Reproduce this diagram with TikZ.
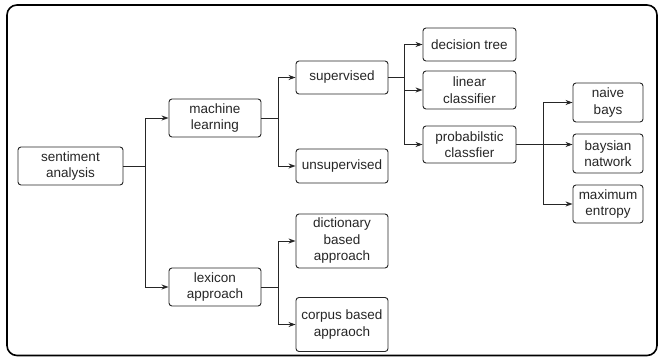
\documentclass[tikz,border=0pt]{standalone}
\usepackage{fontspec}
\setmainfont{Liberation Sans}
\usepackage{xcolor}
\usetikzlibrary{arrows.meta, positioning, calc}
\tikzset{>={Stealth[length=7pt,width=5pt]}}
\definecolor{myink}{HTML}{262626}
\tikzset{
	box/.style={draw=myink, line width=0.9pt, rounded corners=3pt, align=center, inner sep=2pt, text=myink, font=\fontsize{13.5}{16.5}\selectfont},
	link/.style={->, line width=0.9pt, draw=myink},
}

\begin{document}
\begin{tikzpicture}[x=1pt, y=-1pt]
		\useasboundingbox (0,0) rectangle (659,358);
		\draw [line width=1.6pt, rounded corners=10pt] (7,5) rectangle (657,355.5);
		% nodes
		\node [box, minimum width=105pt, minimum height=38pt] (sa) at (70.5,166) {sentiment\\analysis};
		\node [box, minimum width=92pt, minimum height=38pt] (ml) at (215,118) {machine\\learning};
		\node [box, minimum width=92pt, minimum height=38pt] (lex) at (215,287) {lexicon\\approach};
		\node [box, minimum width=92pt, minimum height=33pt] (sup) at (342,77.5) {supervised};
		\node [box, minimum width=92pt, minimum height=34pt] (uns) at (342,166) {unsupervised};
		\node [box, minimum width=92pt, minimum height=54pt] (dict) at (342,241) {dictionary\\based\\approach};
		\node [box, minimum width=92pt, minimum height=54pt] (corp) at (342,324.5) {corpus based\\appraoch};
		\node [box, minimum width=93pt, minimum height=33pt] (dt) at (469.5,44.5) {decision tree};
		\node [box, minimum width=93pt, minimum height=38pt] (lin) at (469.5,90) {linear\\classifier};
		\node [box, minimum width=93pt, minimum height=37pt] (prob) at (469.5,144.5) {probabilstic\\classfier};
		\node [box, minimum width=70pt, minimum height=39pt] (nb) at (608,102.5) {naive\\bays};
		\node [box, minimum width=70pt, minimum height=39pt] (bn) at (608,153.5) {baysian\\natwork};
		\node [box, minimum width=70pt, minimum height=38pt] (me) at (608,204) {maximum\\entropy};
		% junctions
		\coordinate (j1) at (145,166);
		\coordinate (j2) at (278,118);
		\coordinate (j3) at (278,287);
		\coordinate (j4) at (404,77.5);
		\coordinate (j5) at (543,144.5);
		% connectors
		\draw [link] (sa.east) -- (j1) |- (ml.west);
		\draw [link] (j1) |- (lex.west);
		\draw [link] (ml.east) -- (j2) |- (sup.west);
		\draw [link] (j2) |- (uns.west);
		\draw [link] (lex.east) -- (j3) |- (dict.west);
		\draw [link] (j3) |- (corp.west);
		\draw [link] (sup.east) -- (j4) |- (dt.west);
		\draw [link] (j4) |- (lin.west);
		\draw [link] (j4) |- (prob.west);
		\draw [link] (prob.east) -- (j5) |- (nb.west);
		\draw [link] (j5) -- (bn.west |- j5);
		\draw [link] (j5) |- (me.west);
	\end{tikzpicture}
\end{document}
